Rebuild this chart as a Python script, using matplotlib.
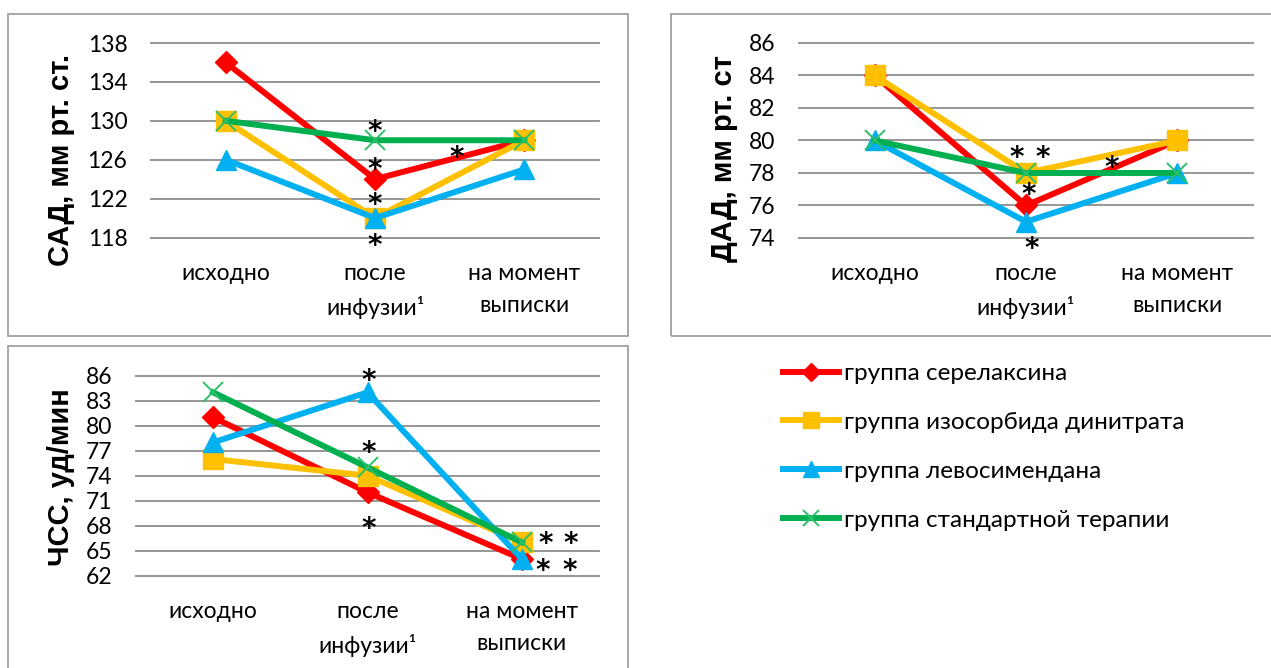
import matplotlib
matplotlib.use("Agg")
import matplotlib.pyplot as plt
from matplotlib import font_manager
from matplotlib.ft2font import FT2Font
from matplotlib.patches import Rectangle
from matplotlib.transforms import offset_copy

# --- data -------------------------------------------------------------
stages = ["исходно", "после\nинфузии¹", "на момент\nвыписки"]
groups = ["группа серелаксина", "группа изосорбида динитрата",
          "группа левосимендана", "группа стандартной терапии"]

sad_serelaxin = [136, 124, 128]
sad_isosorbide = [130, 120, 128]
sad_levosimendan = [126, 120, 125]
sad_standard = [130, 128, 128]

dad_serelaxin = [84, 76, 80]
dad_isosorbide = [84, 78, 80]
dad_levosimendan = [80, 75, 78]
dad_standard = [80, 78, 78]

hr_serelaxin = [81, 72, 64]
hr_isosorbide = [76, 74, 66]
hr_levosimendan = [78, 84, 64]
hr_standard = [84, 75, 66]

sad_ticks = [118, 122, 126, 130, 134, 138]
dad_ticks = [74, 76, 78, 80, 82, 84, 86]
hr_ticks = [62, 65, 68, 71, 74, 77, 80, 83, 86]

# significance marks: (stage position, value level, label)
sad_marks = [(1.0, 129.6, "*"), (1.0, 125.7, "*"), (1.0, 122.1, "*"),
             (1.0, 117.9, "*"), (1.55, 127.0, "*")]
dad_marks = [(0.94, 79.4, "*"), (1.11, 79.4, "*"), (1.02, 77.1, "*"),
             (1.04, 73.8, "*"), (1.57, 78.8, "*")]
hr_marks = [(1.01, 86.3, "*"), (1.01, 77.6, "*"), (1.01, 68.5, "*"),
            (2.155, 66.7, "*"), (2.32, 66.7, "*"),
            (2.14, 63.5, "*"), (2.31, 63.5, "*")]

# --- styling ----------------------------------------------------------
colors = ["#ff0000", "#ffc000", "#00b0f0", "#00b050"]
markers = ["D", "s", "^", "x"]
msizes = [11, 14, 14, 14]
TICK_FS = 16.5
STAR_FS = 20


def has_glyphs(family, text):
    try:
        path = font_manager.findfont(family, fallback_to_default=False)
        ft = FT2Font(path)
        return all(ft.get_char_index(ord(c)) for c in text if not c.isspace())
    except Exception:
        return False


sample = "группаисходнопослеинфузии¹выписки0123456789"
body_font = "Lato" if has_glyphs("Lato", sample) else "Open Sans"
label_font = "Liberation Sans"

plt.rcParams["font.family"] = [body_font, "DejaVu Sans"]
plt.rcParams["mathtext.fontset"] = "dejavusans"

W, H = 1271, 668
fig = plt.figure(figsize=(W / 100, H / 100), dpi=100)


def fx(px):
    return px / W


def fy(py):
    return 1 - py / H


# panel frames
for (x0, y0, x1, y1) in [(8, 14, 628, 336), (671, 14, 1290, 336), (8, 346, 628, 690)]:
    fig.patches.append(Rectangle((fx(x0), fy(y1)), fx(x1 - x0), (y1 - y0) / H,
                                 transform=fig.transFigure, fill=False,
                                 edgecolor="#a0a0a0", linewidth=1.3))


def panel(rect, series, ticks, marks, ylabel, label_xy):
    left, top, right, bottom = rect
    ax = fig.add_axes([fx(left), fy(bottom), fx(right - left), (bottom - top) / H])
    ax.set_xlim(-0.5, 2.5)
    ax.set_ylim(ticks[0], ticks[-1])
    ax.set_yticks(ticks)
    ax.set_xticks(range(len(stages)))
    ax.set_xticklabels(stages, linespacing=1.65)
    ax.tick_params(axis="both", length=0, labelsize=TICK_FS, colors="black")
    ax.tick_params(axis="y", pad=17)
    ax.tick_params(axis="x", pad=18)
    for s in ax.spines.values():
        s.set_visible(False)
    ax.grid(axis="y", color="#969696", linewidth=1.4)
    ax.set_axisbelow(True)
    for gl in ax.get_ygridlines():
        gl.set_clip_on(False)
    x = list(range(len(stages)))
    handles = []
    for vals, c, m, ms in zip(series, colors, markers, msizes):
        if m == "x":
            h, = ax.plot(x, vals, color=c, linewidth=4.3, marker=m, markersize=ms,
                         markeredgewidth=1.4, markeredgecolor="#2cc06a", clip_on=False)
        else:
            h, = ax.plot(x, vals, color=c, linewidth=4.3, marker=m, markersize=ms,
                         markerfacecolor=c, markeredgecolor=c, clip_on=False)
        handles.append(h)
    # asterisks set as math text; small downward shift centres the glyph on its level
    star_tr = offset_copy(ax.transData, fig=fig, y=-0.2 * STAR_FS, units="points")
    for (mx, my, t) in marks:
        ax.text(mx, my, f"$\\mathbf{{{t}}}$", ha="center", va="center",
                fontsize=STAR_FS, color="black", clip_on=False, transform=star_tr)
    fig.text(fx(label_xy[0]), fy(label_xy[1]), ylabel, rotation=90,
             ha="center", va="center", fontsize=21, fontweight="bold",
             family=label_font)
    return handles


h1 = panel((151, 43, 599, 237.5),
           [sad_serelaxin, sad_isosorbide, sad_levosimendan, sad_standard],
           sad_ticks, sad_marks, "САД, мм рт. ст.", (61, 159.5))
panel((799, 43, 1253, 238),
      [dad_serelaxin, dad_isosorbide, dad_levosimendan, dad_standard],
      dad_ticks, dad_marks, "ДАД, мм рт. ст", (724, 158.5))
panel((136, 375.7, 599, 575.7),
      [hr_serelaxin, hr_isosorbide, hr_levosimendan, hr_standard],
      hr_ticks, hr_marks, "ЧСС, уд/мин", (61, 477))

fig.legend(h1, groups, loc="upper left", bbox_to_anchor=(fx(783), fy(363)),
           frameon=False, fontsize=17.5, handlelength=2.3, handletextpad=0.2,
           labelspacing=1.15, borderpad=0, borderaxespad=0, markerscale=0.85)

fig.savefig("out.png", dpi=100)
